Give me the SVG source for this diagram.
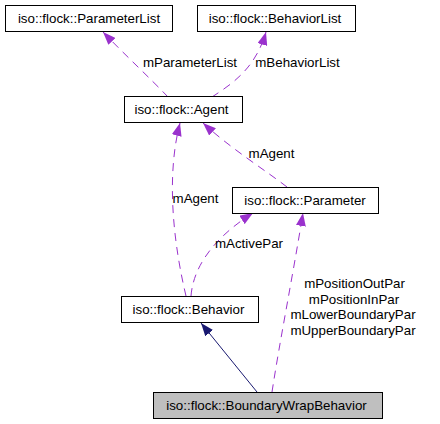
<svg xmlns="http://www.w3.org/2000/svg" width="440" height="424" viewBox="0 0 440 424">
<style>
.box{fill:#ffffff;stroke:#000000;stroke-width:1}
.cur{fill:#bfbfbf;stroke:#000000;stroke-width:1}
.t{font-family:"Liberation Sans",Arial,sans-serif;font-size:13.33px;fill:#000000;text-anchor:middle}
.use{fill:none;stroke:#9a32cd;stroke-width:1;stroke-dasharray:8,6}
.inh{fill:none;stroke:#191970;stroke-width:1}
</style>
<defs>
<marker id="ap" markerUnits="userSpaceOnUse" markerWidth="13" markerHeight="10" viewBox="0 0 13 10" refX="13" refY="5" orient="auto">
<path d="M0,0 L13,5 L0,10 z" fill="#9a32cd"/>
</marker>
<marker id="an" markerUnits="userSpaceOnUse" markerWidth="13" markerHeight="10" viewBox="0 0 13 10" refX="13" refY="5" orient="auto">
<path d="M0,0 L13,5 L0,10 z" fill="#191970"/>
</marker>
</defs>
<rect width="440" height="424" fill="#ffffff"/>
<g id="connectors">
<path class="use" d="M168,97 C150,78 125,55 103,32" marker-end="url(#ap)"/>
<path class="use" d="M212,97 C230,85 255,70 266,32" marker-end="url(#ap)"/>
<path class="use" d="M287,187 C265,170 230,148 203,123" marker-end="url(#ap)"/>
<path class="use" d="M186,296 C175,250 165,180 180,123" marker-end="url(#ap)"/>
<path class="use" d="M191,296 C193,270 210,240 253,213" marker-end="url(#ap)"/>
<path class="use" d="M272,392 C280,340 292,280 303,213" marker-end="url(#ap)"/>
<path class="inh" d="M257,392 L201,323" marker-end="url(#an)"/>
<text class="t" x="190" y="67">mParameterList</text>
<text class="t" x="297.5" y="67">mBehaviorList</text>
<text class="t" x="271.5" y="158">mAgent</text>
<text class="t" x="195.5" y="203">mAgent</text>
<text class="t" x="249" y="248">mActivePar</text>
<text class="t" x="354.5" y="288">mPositionOutPar</text>
<text class="t" x="354" y="304">mPositionInPar</text>
<text class="t" x="353" y="319">mLowerBoundaryPar</text>
<text class="t" x="353" y="335">mUpperBoundaryPar</text>
</g>
<g id="ParameterList">
<rect class="box" x="5.5" y="5.5" width="167" height="26"/>
<text class="t" x="89" y="23">iso::flock::ParameterList</text>
</g>
<g id="BehaviorList">
<rect class="box" x="197.5" y="5.5" width="158" height="26"/>
<text class="t" x="275" y="23">iso::flock::BehaviorList</text>
</g>
<g id="Agent">
<rect class="box" x="124.5" y="96.5" width="118" height="26"/>
<text class="t" x="181.5" y="114">iso::flock::Agent</text>
</g>
<g id="Parameter">
<rect class="box" x="232.5" y="187.5" width="146" height="26"/>
<text class="t" x="305" y="205">iso::flock::Parameter</text>
</g>
<g id="Behavior">
<rect class="box" x="121.5" y="296.5" width="137" height="26"/>
<text class="t" x="188.5" y="314">iso::flock::Behavior</text>
</g>
<g id="BoundaryWrapBehavior">
<rect class="cur" x="153.5" y="392.5" width="229" height="26"/>
<text class="t" x="266.5" y="410">iso::flock::BoundaryWrapBehavior</text>
</g>
</svg>
